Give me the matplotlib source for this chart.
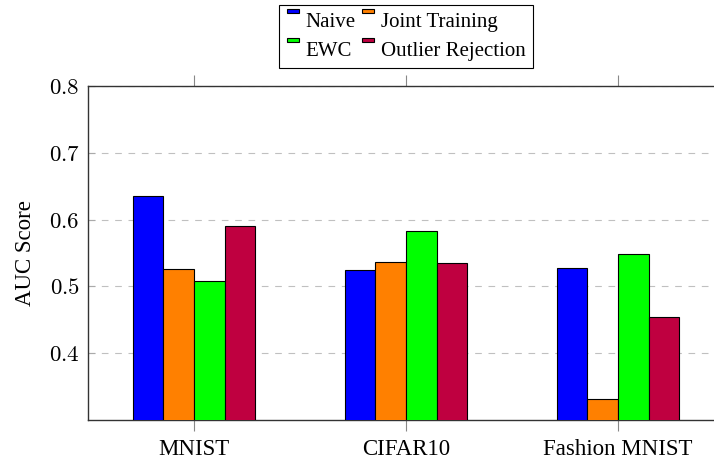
import numpy as np
import matplotlib.pyplot as plt
from matplotlib.patches import Rectangle
from matplotlib.legend_handler import HandlerPatch

plt.rcParams['font.family'] = ['Liberation Serif', 'DejaVu Serif']
plt.rcParams['mathtext.fontset'] = 'cm'

datasets = ['MNIST', 'CIFAR10', 'Fashion MNIST']
methods = ['Naive', 'Joint Training', 'EWC', 'Outlier Rejection']
naive = [0.635, 0.524, 0.528]
joint = [0.526, 0.536, 0.332]
ewc = [0.508, 0.583, 0.548]
outlier = [0.590, 0.535, 0.454]
colors = ['#0000ff', '#ff8000', '#00ff00', '#bf0040']
yticks = [0.4, 0.5, 0.6, 0.7, 0.8]


def top_swatch(legend, orig_handle, xdescent, ydescent, width, height, fontsize):
  # small flat swatch sitting at the top of the entry, pgfplots style
  h = 0.2 * fontsize
  return Rectangle((-xdescent, -ydescent + height - 0.05 * fontsize), width, h)


fig = plt.figure(figsize=(7.14, 4.63), dpi=100)
ax = fig.add_axes([88/714, 1 - 420/463, (724-88)/714, (420-86)/463])

x = np.arange(len(datasets))
w = 0.144
series = [naive, joint, ewc, outlier]
handles = []
for i in range(len(series)):
  b = ax.bar(x + (i - 1.5)*w, series[i], w, bottom=0, color=colors[i],
             edgecolor='black', linewidth=0.8, label=methods[i], zorder=3)
  handles.append(b.patches[0])

ax.set_xlim(-0.5, 2.5)
ax.set_ylim(0.3, 0.8)
ax.set_xticks(x)
ax.set_xticklabels(datasets, fontsize=16.5)
ax.set_yticks(yticks)
ax.set_yticklabels(['$%.1f$' % t for t in yticks], fontsize=16.5)
ax.set_ylabel('AUC Score', fontsize=16.5, labelpad=9)

ax.tick_params(axis='x', top=True, direction='out', length=8, width=0.8,
               color='#888888', pad=6)
ax.tick_params(axis='y', direction='in', length=5, width=0.8,
               color='#aaaaaa', pad=6)
ax.grid(True, axis='y', color='#c0c0c0', linestyle=(0, (6, 6)), linewidth=0.8, zorder=0)
for s in ax.spines.values():
  s.set_linewidth(1.0)
  s.set_color('#333333')

# legend filled row by row like pgfplots: reorder for column-major fill
order = [0, 2, 1, 3]
leg = ax.legend([handles[k] for k in order], [methods[k] for k in order],
                loc='lower center', bbox_to_anchor=(0.5, 1.054), ncol=2, fontsize=15,
                frameon=True, fancybox=False, edgecolor='black', framealpha=1,
                handlelength=0.6, handleheight=0.7, handletextpad=0.3,
                columnspacing=0.3, labelspacing=0.45, borderpad=0.35,
                borderaxespad=0,
                handler_map={Rectangle: HandlerPatch(patch_func=top_swatch)})
leg.get_frame().set_linewidth(0.8)

plt.savefig('out.png', dpi=100)
